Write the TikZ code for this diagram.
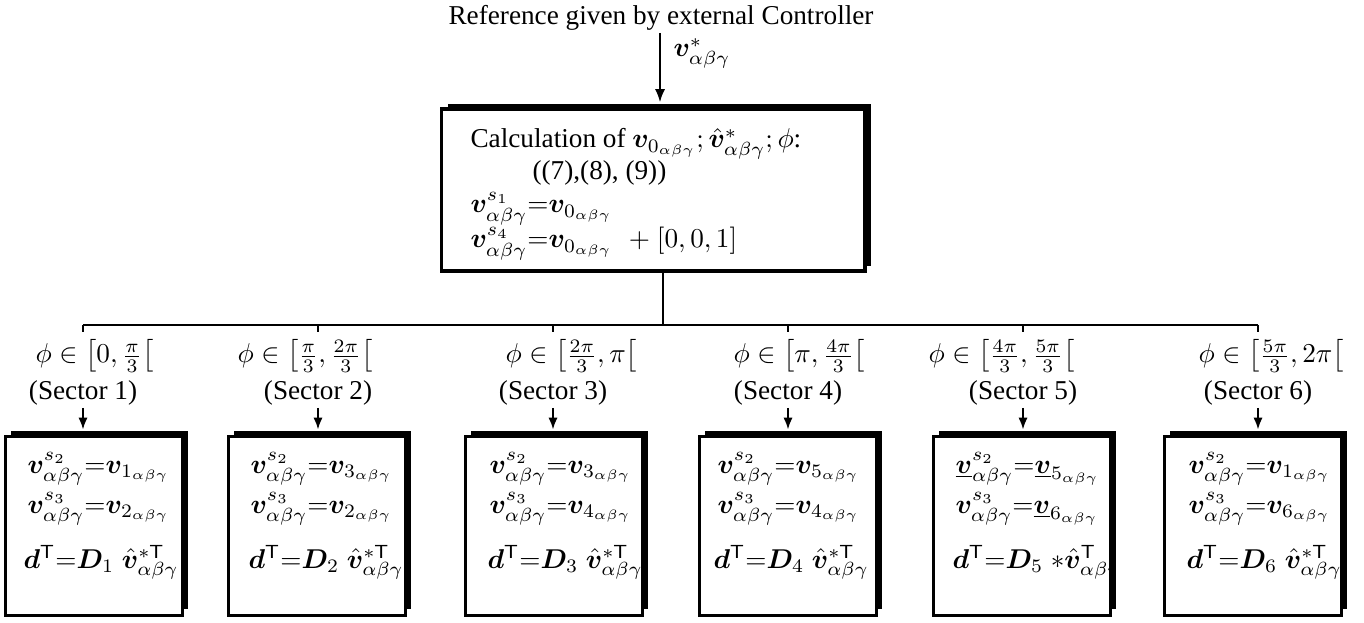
\documentclass[tikz,border=0pt]{standalone}
\usepackage{amsmath}
\usepackage{fontspec}
\setmainfont{Liberation Serif}
\usepackage{bm}
\usetikzlibrary{arrows.meta,shadows}
\newcommand{\vv}{\bm{v}}
\newcommand{\abg}{\alpha\beta\gamma}
\begin{document}
\begin{tikzpicture}[x=0.3672pt,y=-0.3672pt,
  conn/.style={line width=0.75pt},
  arr/.style={conn,-{Latex[length=4.4pt,width=3.4pt]}},
  bigarr/.style={conn,-{Latex[length=4.8pt,width=3.7pt]}},
  secbox/.style={draw,line width=1.1pt,fill=white,minimum width=65pt,minimum height=65.5pt,inner sep=0pt,
    drop shadow={shadow xshift=1.9pt,shadow yshift=2.1pt,fill=black,opacity=1}},
  mainbox/.style={draw,line width=1.3pt,fill=white,minimum width=155.5pt,minimum height=59.3pt,inner sep=0pt,
    drop shadow={shadow xshift=2.4pt,shadow yshift=1.9pt,fill=black,opacity=1}},
  txt/.style={inner sep=0pt,anchor=base west},
  ctxt/.style={inner sep=0pt,anchor=base},
]
\useasboundingbox (0,0) rectangle (1364,623);

% title and main box
\node[ctxt] (title) at (661,25) {Reference given by external Controller};
\node[mainbox] (main) at (653,190) {};
\coordinate (mt) at ([yshift=1.9pt]main.north);
\coordinate (ax) at (660,33);
\draw[bigarr] (ax) -- (ax |- mt);
\node[txt] (vref) at (673,57) {$\vv^{*}_{\abg}$};

\node[txt] (m1) at (470,148) {Calculation of $\vv_{0_{\abg}};\hat{\vv}^{*}_{\abg};\phi$:};
\node[txt] (m2) at (532,180) {((7),(8), (9))};
\node[txt] (m3) at (470,213) {$\vv^{s_1}_{\abg}{=}\vv_{0_{\abg}}$};
\node[txt] (m4) at (470,248) {$\vv^{s_4}_{\abg}{=}\vv_{0_{\abg}}\hspace{6pt}{+}\hspace{2.5pt}[0,0,1]$};

% distribution line
\coordinate (j) at (663,325);
\coordinate (b1) at (83,325);
\coordinate (b2) at (318,325);
\coordinate (b3) at (553,325);
\coordinate (b4) at (788,325);
\coordinate (b5) at (1023,325);
\coordinate (b6) at (1258,325);
\draw[conn] (j |- main.south) -- (j);
\draw[conn] (b1) -- (b6);
\foreach \i in {1,...,6}{
  \coordinate (t\i) at ([yshift=-2.6pt]b\i);
  \draw[conn] (b\i) -- (t\i);
}

% sector labels
\node[txt] (p1) at (35,363) {$\phi\in\left[0,\frac{\pi}{3}\right[$};
\node[txt] (p2) at (237,363) {$\phi\in\left[\frac{\pi}{3},\frac{2\pi}{3}\right[$};
\node[txt] (p3) at (505,363) {$\phi\in\left[\frac{2\pi}{3},\pi\right[$};
\node[txt] (p4) at (733,363) {$\phi\in\left[\pi,\frac{4\pi}{3}\right[$};
\node[txt] (p5) at (928,363) {$\phi\in\left[\frac{4\pi}{3},\frac{5\pi}{3}\right[$};
\node[txt] (p6) at (1198,363) {$\phi\in\left[\frac{5\pi}{3},2\pi\right[$};

\node[ctxt] (s1) at (83,400) {(Sector 1)};
\node[ctxt] (s2) at (318,400) {(Sector 2)};
\node[ctxt] (s3) at (553,400) {(Sector 3)};
\node[ctxt] (s4) at (788,400) {(Sector 4)};
\node[ctxt] (s5) at (1023,400) {(Sector 5)};
\node[ctxt] (s6) at (1258,400) {(Sector 6)};

% sector boxes
\node[secbox] (k1) at (94,526) {};
\node[secbox] (k2) at (317,526) {};
\node[secbox] (k3) at (554,526) {};
\node[secbox] (k4) at (788,526) {};
\node[secbox] (k5) at (1022,526) {};
\node[secbox] (k6) at (1253,526) {};

\foreach \i in {1,...,6}{
  \coordinate (st\i) at ([yshift=-2.9pt]s\i.base);
  \coordinate (kt\i) at ([yshift=2.1pt]k\i.north);
  \draw[arr] (st\i) -- (st\i |- kt\i);
}

% box contents
\node[txt] (a1) at (27,473) {$\vv^{s_2}_{\abg}{=}\vv_{1_{\abg}}$};
\node[txt] (c1) at (27,513) {$\vv^{s_3}_{\abg}{=}\vv_{2_{\abg}}$};
\node[txt] (d1) at (23,568) {$\bm{d}^{\mathsf{T}}{=}\bm{D}_1\;\hat{\vv}^{*\mathsf{T}}_{\abg}$};

\node[txt] (a2) at (250,473) {$\vv^{s_2}_{\abg}{=}\vv_{3_{\abg}}$};
\node[txt] (c2) at (250,513) {$\vv^{s_3}_{\abg}{=}\vv_{2_{\abg}}$};
\node[txt] (d2) at (248,568) {$\bm{d}^{\mathsf{T}}{=}\bm{D}_2\;\hat{\vv}^{*\mathsf{T}}_{\abg}$};

\node[txt] (a3) at (489,473) {$\vv^{s_2}_{\abg}{=}\vv_{3_{\abg}}$};
\node[txt] (c3) at (489,513) {$\vv^{s_3}_{\abg}{=}\vv_{4_{\abg}}$};
\node[txt] (d3) at (487,568) {$\bm{d}^{\mathsf{T}}{=}\bm{D}_3\;\hat{\vv}^{*\mathsf{T}}_{\abg}$};

\node[txt] (a4) at (717,473) {$\vv^{s_2}_{\abg}{=}\vv_{5_{\abg}}$};
\node[txt] (c4) at (717,513) {$\vv^{s_3}_{\abg}{=}\vv_{4_{\abg}}$};
\node[txt] (d4) at (713,568) {$\bm{d}^{\mathsf{T}}{=}\bm{D}_4\;\hat{\vv}^{*\mathsf{T}}_{\abg}$};

\node[txt] (a5) at (955,473) {$\underline{\vv}^{s_2}_{\abg}{=}\underline{\vv}_{5_{\abg}}$};
\node[txt] (c5) at (955,513) {$\vv^{s_3}_{\abg}{=}\underline{\vv}_{6_{\abg}}$};
\begin{scope}
  \clip (k5.south west) rectangle (k5.north east);
  \node[txt] (d5) at (952,568) {$\bm{d}^{\mathsf{T}}{=}\bm{D}_5\;{*}\hat{\vv}^{\mathsf{T}}_{\abg}$};
\end{scope}

\node[txt] (a6) at (1188,473) {$\vv^{s_2}_{\abg}{=}\vv_{1_{\abg}}$};
\node[txt] (c6) at (1188,513) {$\vv^{s_3}_{\abg}{=}\vv_{6_{\abg}}$};
\node[txt] (d6) at (1186,568) {$\bm{d}^{\mathsf{T}}{=}\bm{D}_6\;\hat{\vv}^{*\mathsf{T}}_{\abg}$};
\end{tikzpicture}
\end{document}
